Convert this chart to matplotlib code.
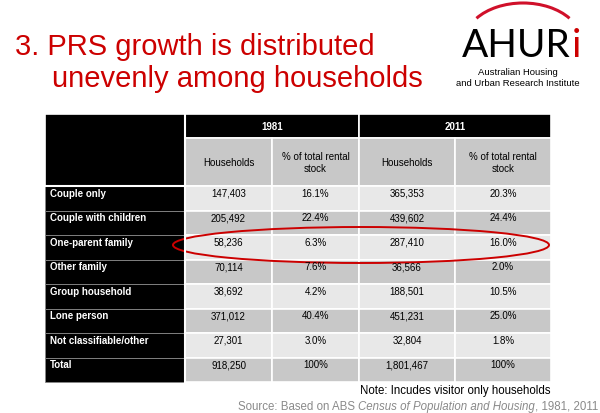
import matplotlib.pyplot as plt
from matplotlib.patches import Rectangle, Ellipse, Arc

# data
years = ["1981", "2011"]
sub_headers = ["Households", "% of total rental\nstock", "Households", "% of total rental\nstock"]
row_labels = ["Couple only", "Couple with children", "One-parent family", "Other family",
              "Group household", "Lone person", "Not classifiable/other", "Total"]
hh_1981 = ["147,403", "205,492", "58,236", "70,114", "38,692", "371,012", "27,301", "918,250"]
pct_1981 = ["16.1%", "22.4%", "6.3%", "7.6%", "4.2%", "40.4%", "3.0%", "100%"]
hh_2011 = ["365,353", "439,602", "287,410", "36,566", "188,501", "451,231", "32,804", "1,801,467"]
pct_2011 = ["20.3%", "24.4%", "16.0%", "2.0%", "10.5%", "25.0%", "1.8%", "100%"]
highlight_row = 2

plt.rcParams['font.family'] = ['Liberation Sans', 'DejaVu Sans']

fig = plt.figure(figsize=(6, 4.14), dpi=100)
ax = fig.add_axes([0, 0, 1, 1])
ax.set_xlim(0, 600)
ax.set_ylim(414, 0)
ax.axis('off')

red = '#cc0000'

# title
ax.text(15, 55, "3. PRS growth is distributed", color=red, fontsize=21, va='baseline')
ax.text(52, 87, "unevenly among households", color=red, fontsize=21, va='baseline')

# logo
ax.add_patch(Arc((523, 42), 116, 76, theta1=206, theta2=334, color='#d0102a', lw=2.2))
t = ax.text(462, 57, "AHUR", fontsize=28, family=['Lato', 'DejaVu Sans'], va='baseline', color='black')
ax.annotate("i", xy=(1, 0), xycoords=t, xytext=(0.5, 0), textcoords='offset points',
            fontsize=28, family=['Lato', 'DejaVu Sans'], va='bottom', color=red)
ax.text(518, 75, "Australian Housing", fontsize=6.8, ha='center', va='baseline')
ax.text(518, 86, "and Urban Research Institute", fontsize=6.8, ha='center', va='baseline')

# table geometry
xs = [45, 185, 272, 359, 455, 551]
top, y_year, y_sub = 115, 139, 187
rh = 24.5
light, dark = '#e8e8e8', '#c8c8c8'
fs = 7

# header
ax.add_patch(Rectangle((xs[0], top), xs[1] - xs[0], y_sub - top, fc='black', ec='white', lw=1.2))
for i, yr in enumerate(years):
    x0, x1 = xs[1 + 2 * i], xs[3 + 2 * i]
    ax.add_patch(Rectangle((x0, top), x1 - x0, y_year - top, fc='black', ec='white', lw=1.2))
    ax.text((x0 + x1) / 2, (top + y_year) / 2, yr, color='white', fontsize=fs, fontweight='bold',
            ha='center', va='center')
for j, sh in enumerate(sub_headers):
    x0, x1 = xs[1 + j], xs[2 + j]
    ax.add_patch(Rectangle((x0, y_year), x1 - x0, y_sub - y_year, fc=dark, ec='white', lw=1.2))
    ax.text((x0 + x1) / 2, (y_year + y_sub) / 2, sh, fontsize=fs, ha='center', va='center',
            linespacing=1.3)

# body
cols = [hh_1981, pct_1981, hh_2011, pct_2011]
for r, lab in enumerate(row_labels):
    y0 = y_sub + r * rh
    ax.add_patch(Rectangle((xs[0], y0), xs[1] - xs[0], rh, fc='black', ec='#888888', lw=0.6))
    ax.text(xs[0] + 5, y0 + 7, lab, color='white', fontsize=fs, fontweight='bold', va='center')
    fc = light if r % 2 == 0 else dark
    for j, col in enumerate(cols):
        x0, x1 = xs[1 + j], xs[2 + j]
        ax.add_patch(Rectangle((x0, y0), x1 - x0, rh, fc=fc, ec='white', lw=1.2))
        ax.text((x0 + x1) / 2, y0 + 7, col[r], fontsize=fs, ha='center', va='center')
ax.plot([xs[0], xs[1]], [y_sub, y_sub], color='white', lw=1.5)
ax.plot([xs[1], xs[1]], [top, y_sub + rh * len(row_labels)], color='white', lw=1.5)

# highlight ellipse
yc = y_sub + highlight_row * rh + 10
ax.add_patch(Ellipse((361, yc), 376, 36, fill=False, ec=red, lw=1.4))

# footer
ax.text(551, 394, "Note: Incudes visitor only households", fontsize=8.3, ha='right', va='baseline')
grey = '#8a8a8a'
p3 = ax.text(598, 410, ", 1981, 2011", fontsize=8.3, ha='right', va='baseline', color=grey)
p2 = ax.annotate("Census of Population and Housing", xy=(0, 0), xycoords=p3, ha='right', va='bottom',
                 fontsize=8.3, style='italic', color=grey)
ax.annotate("Source: Based on ABS ", xy=(0, 0), xycoords=p2, ha='right', va='bottom',
            fontsize=8.3, color=grey)

fig.savefig('out.png', dpi=100)
